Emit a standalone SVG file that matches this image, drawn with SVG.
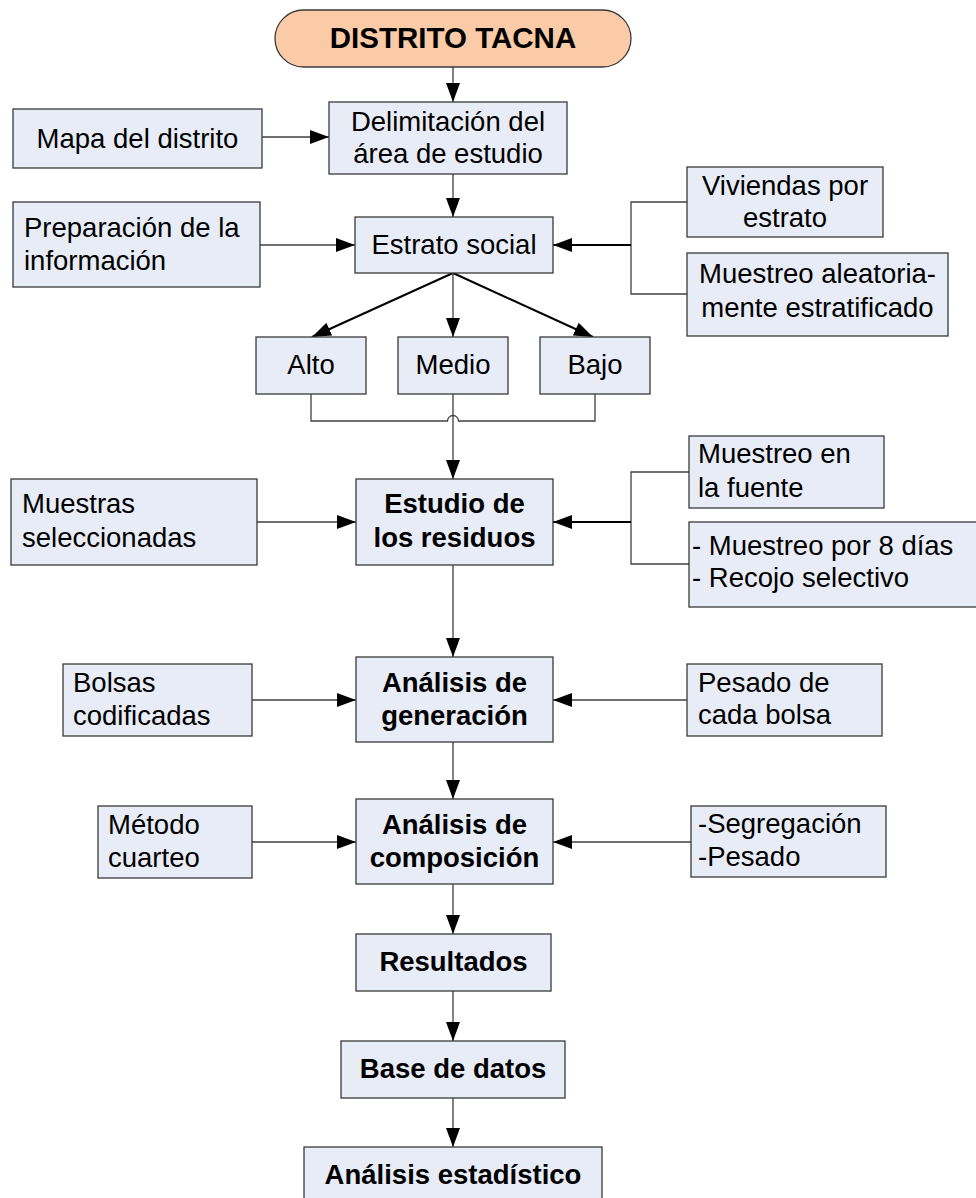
<svg xmlns="http://www.w3.org/2000/svg" width="976" height="1198" viewBox="0 0 976 1198">
<style>
.box{fill:#E7ECF6;stroke:#3a3a3a;stroke-width:1.3}
.term{fill:#FACBA6;stroke:#3a3a3a;stroke-width:1.3}
text{font-family:"Liberation Sans",Arial,sans-serif;font-size:27.5px;fill:#000}
.c{text-anchor:middle}
.b{font-weight:bold}
.ln{fill:none;stroke:#404040;stroke-width:1.3}
.lk{fill:none;stroke:#000;stroke-width:2}
</style>
<defs>
<marker id="ah" markerUnits="userSpaceOnUse" markerWidth="19" markerHeight="14" refX="19" refY="7" orient="auto" viewBox="0 0 19 14">
<path d="M0,0 L19,7 L0,14 z" fill="#000"/>
</marker>
</defs>
<g id="connectors">
<path class="ln" d="M453,67 V102" marker-end="url(#ah)"/>
<path class="ln" d="M453,174 V217" marker-end="url(#ah)"/>
<path class="ln" d="M262,137 H329" marker-end="url(#ah)"/>
<path class="ln" d="M260,245 H355" marker-end="url(#ah)"/>
<path class="ln" d="M687,202 H631 V294 H687"/>
<path class="lk" d="M631,245 H553" marker-end="url(#ah)"/>
<path class="lk" d="M453,273 L312,337" marker-end="url(#ah)"/>
<path class="ln" d="M453,273 V337" marker-end="url(#ah)"/>
<path class="lk" d="M453,273 L593,337" marker-end="url(#ah)"/>
<path class="ln" d="M311,394 V421 H447.5 A5.5,5.5 0 0 1 458.5,421 H595 V394"/>
<path class="ln" d="M453,394 V479" marker-end="url(#ah)"/>
<path class="ln" d="M257,522 H356" marker-end="url(#ah)"/>
<path class="ln" d="M689,472 H631 V564 H689"/>
<path class="lk" d="M631,522 H553" marker-end="url(#ah)"/>
<path class="ln" d="M453,565 V657" marker-end="url(#ah)"/>
<path class="ln" d="M252,700 H356" marker-end="url(#ah)"/>
<path class="ln" d="M687,700 H553" marker-end="url(#ah)"/>
<path class="ln" d="M453,742 V799" marker-end="url(#ah)"/>
<path class="ln" d="M252,842 H356" marker-end="url(#ah)"/>
<path class="ln" d="M691,842 H553" marker-end="url(#ah)"/>
<path class="ln" d="M453,884 V934" marker-end="url(#ah)"/>
<path class="ln" d="M453,991 V1041" marker-end="url(#ah)"/>
<path class="ln" d="M453,1098 V1147" marker-end="url(#ah)"/>
</g>
<g id="n-distrito">
<rect class="term" x="275" y="10" width="356" height="57" rx="28.5"/>
<text class="c b" x="453" y="48" style="font-size:29.5px">DISTRITO TACNA</text>
</g>
<g id="n-delimitacion">
<rect class="box" x="329" y="102" width="238" height="72"/>
<text class="c" x="448" y="131">Delimitación del</text>
<text class="c" x="448" y="163">área de estudio</text>
</g>
<g id="n-mapa">
<rect class="box" x="13" y="109" width="249" height="59"/>
<text class="c" x="137.5" y="148">Mapa del distrito</text>
</g>
<g id="n-preparacion">
<rect class="box" x="13" y="202" width="247" height="85"/>
<text x="24" y="237">Preparación de la</text>
<text x="24" y="270">información</text>
</g>
<g id="n-estrato">
<rect class="box" x="355" y="217" width="198" height="56"/>
<text class="c" x="454" y="254">Estrato social</text>
</g>
<g id="n-viviendas">
<rect class="box" x="687" y="167" width="196" height="70"/>
<text class="c" x="785" y="195">Viviendas por</text>
<text class="c" x="785" y="227">estrato</text>
</g>
<g id="n-muestreo-aleatorio">
<rect class="box" x="687" y="253" width="261" height="83"/>
<text class="c" x="817.5" y="283">Muestreo aleatoria-</text>
<text class="c" x="817.5" y="317">mente estratificado</text>
</g>
<g id="n-alto">
<rect class="box" x="256" y="337" width="110" height="57"/>
<text class="c" x="311" y="374">Alto</text>
</g>
<g id="n-medio">
<rect class="box" x="398" y="337" width="110" height="57"/>
<text class="c" x="453" y="374">Medio</text>
</g>
<g id="n-bajo">
<rect class="box" x="540" y="337" width="110" height="57"/>
<text class="c" x="595" y="374">Bajo</text>
</g>
<g id="n-muestras">
<rect class="box" x="11" y="479" width="246" height="86"/>
<text x="22" y="513">Muestras</text>
<text x="22" y="547">seleccionadas</text>
</g>
<g id="n-estudio">
<rect class="box" x="356" y="479" width="197" height="86"/>
<text class="c b" x="454.5" y="513">Estudio de</text>
<text class="c b" x="454.5" y="547">los residuos</text>
</g>
<g id="n-muestreo-fuente">
<rect class="box" x="689" y="436" width="195" height="72"/>
<text x="698" y="463">Muestreo en</text>
<text x="698" y="497">la fuente</text>
</g>
<g id="n-muestreo-dias">
<rect class="box" x="689" y="522" width="300" height="85"/>
<text x="692" y="555">- Muestreo por 8 días</text>
<text x="692" y="587">- Recojo selectivo</text>
</g>
<g id="n-bolsas">
<rect class="box" x="63" y="664" width="189" height="72"/>
<text x="73" y="692">Bolsas</text>
<text x="73" y="725">codificadas</text>
</g>
<g id="n-generacion">
<rect class="box" x="356" y="657" width="197" height="85"/>
<text class="c b" x="454.5" y="692">Análisis de</text>
<text class="c b" x="454.5" y="725">generación</text>
</g>
<g id="n-pesado">
<rect class="box" x="687" y="664" width="195" height="72"/>
<text x="698" y="692">Pesado de</text>
<text x="698" y="724">cada bolsa</text>
</g>
<g id="n-metodo">
<rect class="box" x="98" y="806" width="154" height="72"/>
<text x="108" y="834">Método</text>
<text x="108" y="867">cuarteo</text>
</g>
<g id="n-composicion">
<rect class="box" x="356" y="799" width="197" height="85"/>
<text class="c b" x="454.5" y="834">Análisis de</text>
<text class="c b" x="454.5" y="867">composición</text>
</g>
<g id="n-segregacion">
<rect class="box" x="691" y="806" width="195" height="71"/>
<text x="698" y="833">-Segregación</text>
<text x="698" y="866">-Pesado</text>
</g>
<g id="n-resultados">
<rect class="box" x="356" y="934" width="195" height="57"/>
<text class="c b" x="453.5" y="971">Resultados</text>
</g>
<g id="n-base">
<rect class="box" x="341" y="1041" width="224" height="57"/>
<text class="c b" x="453" y="1078">Base de datos</text>
</g>
<g id="n-analisis-est">
<rect class="box" x="304" y="1147" width="298" height="70"/>
<text class="c b" x="453" y="1184">Análisis estadístico</text>
</g>
</svg>
